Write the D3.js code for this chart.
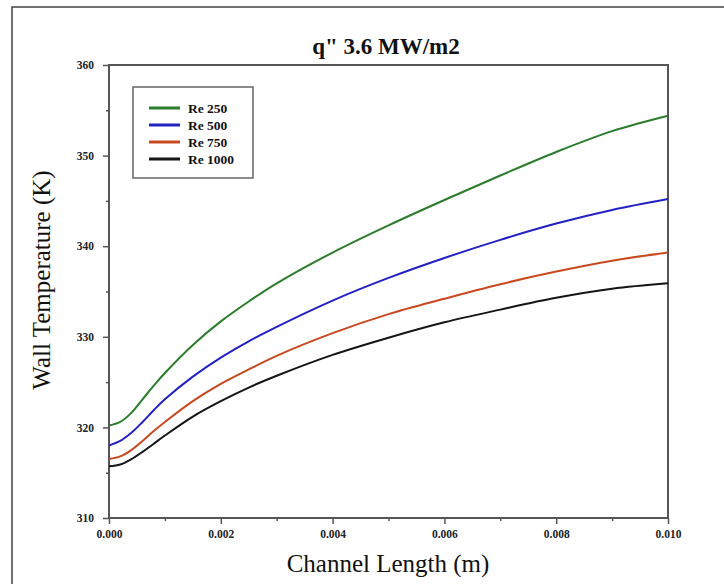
<!DOCTYPE html>
<html>
<head>
<meta charset="utf-8">
<script src="https://cdnjs.cloudflare.com/ajax/libs/d3/7.8.5/d3.min.js"></script>
<style>
  body { margin: 0; background: #fff; }
  svg { display: block; }
</style>
</head>
<body>
<div class="canvas"></div>
<script>
// data
const lengths = [0, 0.0002, 0.0004, 0.0006, 0.0008, 0.001, 0.0015, 0.002, 0.0025, 0.003, 0.004, 0.005, 0.006, 0.007, 0.008, 0.009, 0.010];
const re250  = [320.2, 320.6, 321.6, 323.1, 324.6, 326.0, 329.1, 331.7, 333.9, 335.9, 339.3, 342.3, 345.1, 347.8, 350.4, 352.7, 354.4];
const re500  = [318.0, 318.5, 319.4, 320.6, 321.9, 323.1, 325.6, 327.7, 329.5, 331.1, 334.0, 336.5, 338.7, 340.7, 342.5, 344.0, 345.2];
const re750  = [316.5, 316.8, 317.5, 318.5, 319.6, 320.6, 322.9, 324.8, 326.4, 327.9, 330.4, 332.5, 334.2, 335.8, 337.2, 338.4, 339.3];
const re1000 = [315.7, 315.9, 316.5, 317.3, 318.2, 319.1, 321.2, 322.9, 324.4, 325.7, 328.0, 329.9, 331.6, 333.0, 334.3, 335.3, 335.9];
const seriesNames = ['Re 250', 'Re 500', 'Re 750', 'Re 1000'];
const seriesColors = ['#2b7d2b', '#2222c4', '#c9481f', '#151515'];
const xTicks = [0, 0.002, 0.004, 0.006, 0.008, 0.010];
const yTicks = [310, 320, 330, 340, 350, 360];

const width = 724, height = 584;
const margin = { top: 65, right: 56, bottom: 66, left: 109 };
const graphWidth = width - margin.left - margin.right;
const graphHeight = height - margin.top - margin.bottom;

const svg = d3.select('.canvas')
    .append('svg')
    .attr('width', width)
    .attr('height', height);

// outer frame (top and left edges only visible)
svg.append('path')
    .attr('d', `M12,${height} L12,7 L${width},7`)
    .attr('fill', 'none')
    .attr('stroke', '#444')
    .attr('stroke-width', 1.5);

const graph = svg.append('g')
    .attr('transform', `translate(${margin.left}, ${margin.top})`);

const x = d3.scaleLinear().domain([0, 0.010]).range([0, graphWidth]);
const y = d3.scaleLinear().domain([310, 360]).range([graphHeight, 0]);

const axisColor = '#555';
const tickFont = '"Liberation Serif", "Times New Roman", serif';

// minor ticks
const xAxisMinor = d3.axisBottom(x).tickValues(d3.range(0.001, 0.010, 0.002)).tickSize(3).tickFormat('');
const yAxisMinor = d3.axisLeft(y).tickValues(d3.range(315, 360, 10)).tickSize(3).tickFormat('');
// major ticks
const xAxis = d3.axisBottom(x).tickValues(xTicks).tickSize(6).tickPadding(6).tickFormat(d3.format('.3f'));
const yAxis = d3.axisLeft(y).tickValues(yTicks).tickSize(6).tickPadding(9).tickFormat(d3.format('d'));

const styleAxis = g => {
    g.select('.domain').remove();
    g.selectAll('line').attr('stroke', axisColor).attr('stroke-width', 1.5);
    g.selectAll('text')
        .attr('fill', '#222')
        .style('font-family', tickFont)
        .style('font-weight', 'bold')
        .style('font-size', '11.5px');
};

graph.append('g').attr('transform', `translate(0, ${graphHeight})`).call(xAxisMinor).call(styleAxis);
graph.append('g').call(yAxisMinor).call(styleAxis);
graph.append('g').attr('transform', `translate(0, ${graphHeight})`).call(xAxis).call(styleAxis);
graph.append('g').call(yAxis).call(styleAxis);

// plot box
graph.append('rect')
    .attr('width', graphWidth)
    .attr('height', graphHeight)
    .attr('fill', 'none')
    .attr('stroke', axisColor)
    .attr('stroke-width', 2);

// curves
const allSeries = [re250, re500, re750, re1000];
const line = d3.line()
    .x((d, i) => x(lengths[i]))
    .y(d => y(d))
    .curve(d3.curveCatmullRom.alpha(0.5));

graph.selectAll('path.curve')
    .data(allSeries)
    .enter()
    .append('path')
    .attr('class', 'curve')
    .attr('d', line)
    .attr('fill', 'none')
    .attr('stroke', (d, i) => seriesColors[i])
    .attr('stroke-width', 2);

// legend
const legend = svg.append('g').attr('transform', 'translate(133, 87)');
legend.append('rect')
    .attr('width', 120)
    .attr('height', 91)
    .attr('fill', '#fff')
    .attr('stroke', '#666')
    .attr('stroke-width', 1.5);

const rows = legend.selectAll('g.row')
    .data(seriesNames)
    .enter()
    .append('g')
    .attr('transform', (d, i) => `translate(0, ${21 + i * 17})`);
rows.append('line')
    .attr('x1', 16).attr('x2', 47)
    .attr('stroke', (d, i) => seriesColors[i])
    .attr('stroke-width', 3);
rows.append('text')
    .attr('x', 55)
    .attr('dy', '0.35em')
    .text(d => d)
    .style('font-family', tickFont)
    .style('font-weight', 'bold')
    .style('font-size', '13.5px')
    .attr('fill', '#111');

// title and axis labels
svg.append('text')
    .attr('x', 386).attr('y', 54)
    .attr('text-anchor', 'middle')
    .text('q" 3.6 MW/m2')
    .style('font-family', tickFont)
    .style('font-weight', 'bold')
    .style('font-size', '23px')
    .attr('fill', '#111');

svg.append('text')
    .attr('x', 388).attr('y', 572)
    .attr('text-anchor', 'middle')
    .text('Channel Length (m)')
    .style('font-family', tickFont)
    .style('font-size', '25px')
    .attr('fill', '#111');

svg.append('text')
    .attr('transform', 'translate(50, 280) rotate(-90)')
    .attr('text-anchor', 'middle')
    .text('Wall Temperature (K)')
    .style('font-family', tickFont)
    .style('font-size', '25px')
    .attr('fill', '#111');
</script>
</body>
</html>
